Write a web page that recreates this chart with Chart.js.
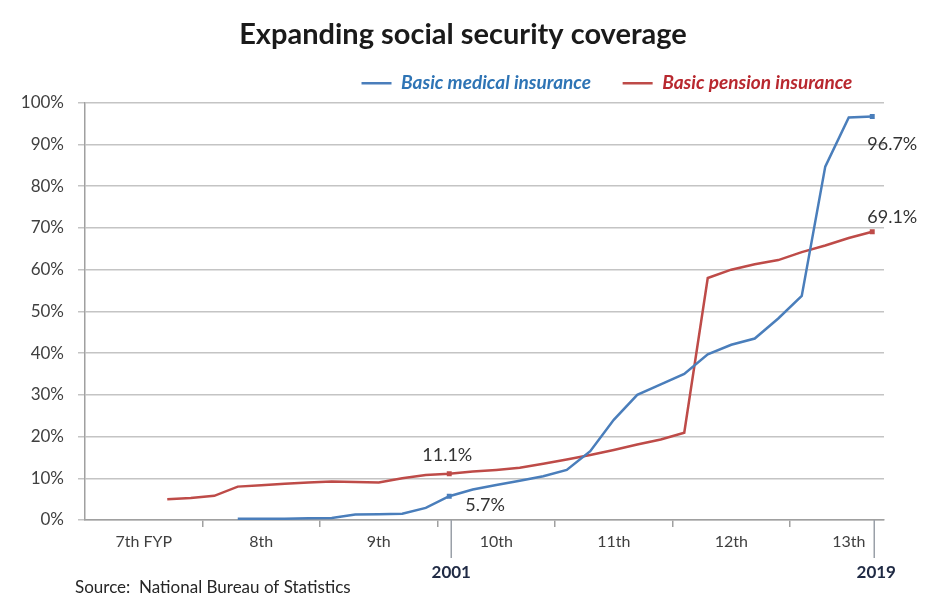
<!DOCTYPE html>
<html><head><meta charset="utf-8">
<script src="https://cdn.jsdelivr.net/npm/chart.js@4/dist/chart.umd.min.js"></script>
<style>html,body{margin:0;padding:0;background:#fff}#wrap{width:926px;height:594px;position:relative}</style>
</head><body><div id="wrap"><canvas id="c" width="926" height="594"></canvas></div>
<script>
const years = [1986,1987,1988,1989,1990,1991,1992,1993,1994,1995,1996,1997,1998,1999,2000,2001,2002,2003,2004,2005,2006,2007,2008,2009,2010,2011,2012,2013,2014,2015,2016,2017,2018,2019];
const medical = [null,null,null,null,null,null,0.3,0.3,0.3,0.4,0.5,1.3,1.4,1.5,2.9,5.7,7.3,8.4,9.4,10.5,12.0,16.5,24.0,30.0,32.5,35.0,39.7,42.0,43.5,48.3,53.7,84.7,96.5,96.7];
const pension = [null,null,null,5.0,5.3,5.8,8.0,8.3,8.7,9.0,9.2,9.1,9.0,10.0,10.8,11.1,11.6,12.0,12.5,13.5,14.5,15.6,16.8,18.1,19.3,20.9,58.0,60.0,61.3,62.3,64.2,65.8,67.6,69.1];
const planLabels = ['7th FYP','8th','9th','10th','11th','12th','13th'];
const planStartYears = [1986,1991,1996,2001,2006,2011,2016];
const yTicks = [0,10,20,30,40,50,60,70,80,90,100];
const markYears = [2001, 2019];
const seriesNames = ['Basic medical insurance','Basic pension insurance'];
const sourceText = 'Source:  National Bureau of Statistics';
const titleText = 'Expanding social security coverage';

const BLUE = '#4a7ebb', RED = '#be4b48';
const FONT = 'Lato';
const planCenters = planStartYears.map(y => y + 2);
const planBounds = planStartYears.slice(1).map(y => y - 0.5);

const toPts = arr => years.map((y, i) => ({x: y, y: arr[i]}));
const markIdx = markYears.map(y => years.indexOf(y));
const ptRadius = ctx => markIdx.includes(ctx.dataIndex) ? 3.5 : 0;

const annot = {
  id: 'annot',
  afterDraw(chart) {
    const {ctx, chartArea, scales} = chart;
    ctx.save();
    ctx.font = '18px ' + FONT;
    ctx.fillStyle = '#333333';
    ctx.textBaseline = 'middle';
    const offs = [
      [{dx:16, dy:8.5, al:'left'}, {dx:-5, dy:28, al:'left'}],
      [{dx:-2, dy:-19, al:'center'}, {dx:-5, dy:-15, al:'left'}]
    ];
    chart.data.datasets.forEach((ds, di) => {
      const meta = chart.getDatasetMeta(di);
      markIdx.forEach((idx, k) => {
        const el = meta.data[idx];
        const v = ds.data[idx].y;
        const o = offs[di][k];
        ctx.textAlign = o.al;
        ctx.fillText(v.toFixed(1) + '%', el.x + o.dx, el.y + o.dy);
      });
    });
    ctx.strokeStyle = '#9aa0a8';
    ctx.lineWidth = 1.5;
    ctx.font = 'bold 17px ' + FONT;
    ctx.fillStyle = '#1f2a44';
    ctx.textAlign = 'center';
    markYears.forEach((yr, k) => {
      const x = scales.x.getPixelForValue(yr) + 2;
      ctx.beginPath();
      ctx.moveTo(x, chartArea.bottom);
      ctx.lineTo(x, chartArea.bottom + 38);
      ctx.stroke();
      ctx.fillText(String(yr), x + (k === 1 ? 2 : 0), chartArea.bottom + 53);
    });
    ctx.font = '17px ' + FONT;
    ctx.fillStyle = '#262626';
    ctx.textAlign = 'left';
    ctx.fillText(sourceText, 75, 588);
    ctx.restore();
  }
};

new Chart(document.getElementById('c'), {
  type: 'line',
  data: {
    datasets: [
      {label: seriesNames[0], data: toPts(medical), borderColor: BLUE, backgroundColor: BLUE, borderWidth: 2.5,
       pointRadius: ptRadius, pointStyle: 'rect', pointBorderWidth: 0, tension: 0},
      {label: seriesNames[1], data: toPts(pension), borderColor: RED, backgroundColor: RED, borderWidth: 2.5,
       pointRadius: ptRadius, pointStyle: 'rect', pointBorderWidth: 0, tension: 0}
    ]
  },
  options: {
    responsive: false,
    animation: false,
    layout: {padding: {left: 0, right: 0, top: 0, bottom: 0}},
    scales: {
      x: {
        type: 'linear', min: years[0] - 0.5, max: years[years.length - 1] + 0.5,
        afterBuildTicks: s => {
          s.ticks = [...planBounds, ...planCenters].sort((a, b) => a - b).map(v => ({value: v}));
        },
        afterFit: s => { s.height = 74; },
        ticks: {
          autoSkip: false, maxRotation: 0, padding: 5, color: '#404040',
          font: {family: FONT, size: 16},
          callback: v => { const i = planCenters.indexOf(v); return i >= 0 ? planLabels[i] : ''; }
        },
        grid: {
          drawOnChartArea: false, tickLength: 7, lineWidth: 1.5,
          tickColor: c => (c.tick && planBounds.includes(c.tick.value)) ? '#a0a0a0' : 'rgba(0,0,0,0)'
        },
        border: {color: '#a0a0a0', width: 1.5}
      },
      y: {
        min: 0, max: 100,
        afterBuildTicks: s => { s.ticks = yTicks.map(v => ({value: v})); },
        afterFit: s => { s.width = 85; },
        ticks: {padding: 14, color: '#404040', font: {family: FONT, size: 17}, callback: v => v + '%'},
        grid: {color: '#c4c4c4', lineWidth: 1.5, tickLength: 7, tickColor: '#c4c4c4'},
        border: {color: '#a0a0a0', width: 1.5}
      },
      yRight: {
        type: 'linear', position: 'right', min: 0, max: 100,
        afterFit: s => { s.width = 42; },
        ticks: {display: false},
        grid: {display: false, drawTicks: false},
        border: {display: false}
      }
    },
    plugins: {
      title: {display: true, text: titleText, color: '#1a1a1a',
        font: {family: FONT, size: 29, weight: 'bold'}, padding: {top: 17, bottom: 12}},
      legend: {
        position: 'top', align: 'end', fullSize: false,
        labels: {
          usePointStyle: true, pointStyleWidth: 30, padding: 10,
          font: {family: FONT, size: 19, weight: 'bold', style: 'italic'},
          generateLabels: chart => chart.data.datasets.map((ds, i) => ({
            text: ds.label + '\u2002\u2002 ', datasetIndex: i, pointStyle: 'line',
            strokeStyle: ds.borderColor, fillStyle: ds.borderColor, lineWidth: 2.5,
            fontColor: i === 0 ? '#2e74b5' : '#b8282f', hidden: false
          }))
        }
      },
      tooltip: {enabled: false}
    }
  },
  plugins: [annot]
});
</script></body></html>
